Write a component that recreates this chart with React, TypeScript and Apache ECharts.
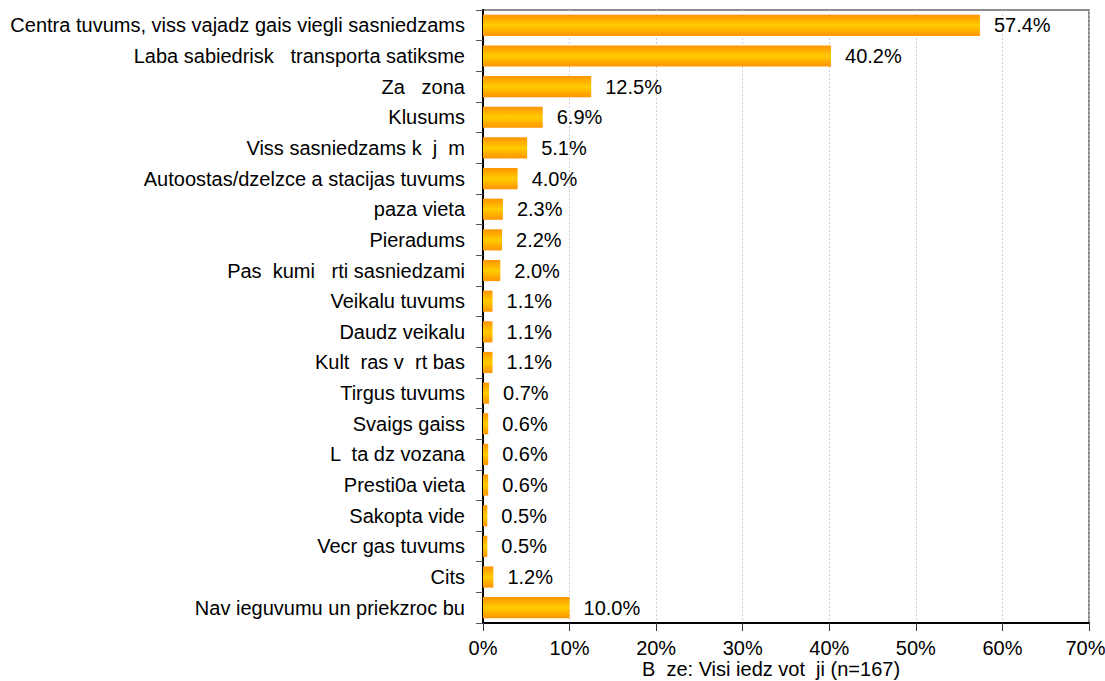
import React, { useEffect, useRef } from "react";
import * as echarts from "echarts";

const categories = [
  "Centra tuvums, viss vajadz gais viegli sasniedzams",
  "Laba sabiedrisk   transporta satiksme",
  "Za   zona",
  "Klusums",
  "Viss sasniedzams k  j  m",
  "Autoostas/dzelzce a stacijas tuvums",
  "paza vieta",
  "Pieradums",
  "Pas  kumi   rti sasniedzami",
  "Veikalu tuvums",
  "Daudz veikalu",
  "Kult  ras v  rt bas",
  "Tirgus tuvums",
  "Svaigs gaiss",
  "L  ta dz vozana",
  "Presti0a vieta",
  "Sakopta vide",
  "Vecr gas tuvums",
  "Cits",
  "Nav ieguvumu un priekzroc bu",
];
const values = [57.4, 40.2, 12.5, 6.9, 5.1, 4.0, 2.3, 2.2, 2.0, 1.1, 1.1, 1.1, 0.7, 0.6, 0.6, 0.6, 0.5, 0.5, 1.2, 10.0];
const xTicks = [0, 10, 20, 30, 40, 50, 60, 70];
const axisTitle = "B  ze: Visi iedz vot  ji (n=167)";

export default function App() {
  const ref = useRef<HTMLDivElement>(null);
  useEffect(() => {
    if (!ref.current) return;
    const chart = echarts.init(ref.current, null, { renderer: "svg" });
    const font = "Liberation Sans, Arial, sans-serif";
    const maxTick = xTicks[xTicks.length - 1];
    chart.setOption({
      animation: false,
      grid: {
        left: 483,
        right: 16,
        top: 10,
        bottom: 58,
        containLabel: false,
        outerBoundsMode: "none",
        show: true,
        borderColor: "#8c8c8c",
        borderWidth: 2,
        backgroundColor: "#fff",
      },
      xAxis: {
        type: "value",
        min: xTicks[0],
        max: maxTick,
        interval: 10,
        axisLine: { show: true, lineStyle: { color: "#000", width: 2 } },
        axisTick: { show: true, length: 8, lineStyle: { color: "#333" } },
        axisLabel: {
          formatter: (v: number) => (v === maxTick ? `{last|${v}%}` : `${v}%`),
          color: "#000",
          fontFamily: font,
          fontSize: 20,
          margin: 15,
          align: "center",
          rich: {
            last: { color: "#000", fontFamily: font, fontSize: 20, padding: [0, 7, 0, 0] },
          },
        },
        splitLine: { show: true, lineStyle: { color: "#d0d0d0", type: [2, 2], width: 1 } },
        name: axisTitle,
        nameLocation: "middle",
        nameGap: 46,
        nameMoveOverlap: false,
        nameTextStyle: {
          color: "#000",
          fontFamily: font,
          fontSize: 20,
          lineHeight: 20,
          verticalAlign: "middle",
          padding: [0, 30, 0, 0],
        },
      },
      yAxis: {
        type: "category",
        data: categories,
        inverse: true,
        axisLine: { show: true, lineStyle: { color: "#000", width: 2 } },
        axisTick: { show: true, length: 7, lineStyle: { color: "#555" } },
        axisLabel: {
          color: "#000",
          fontFamily: font,
          fontSize: 20,
          margin: 18,
        },
        splitLine: { show: false },
      },
      series: [
        {
          type: "bar",
          data: values,
          barCategoryGap: "31%",
          itemStyle: {
            color: new echarts.graphic.LinearGradient(0, 0, 0, 1, [
              { offset: 0, color: "#ff9400" },
              { offset: 0.5, color: "#ffcc00" },
              { offset: 1, color: "#ff9400" },
            ]),
          },
          label: {
            show: true,
            position: "right",
            distance: 14,
            formatter: (p: any) => `${p.value.toFixed(1)}%`,
            color: "#000",
            fontFamily: font,
            fontSize: 20,
          },
        },
      ],
    });
    return () => chart.dispose();
  }, []);
  return <div ref={ref} style={{ width: 1105, height: 681, position: "absolute", left: 0, top: 0 }} />;
}
